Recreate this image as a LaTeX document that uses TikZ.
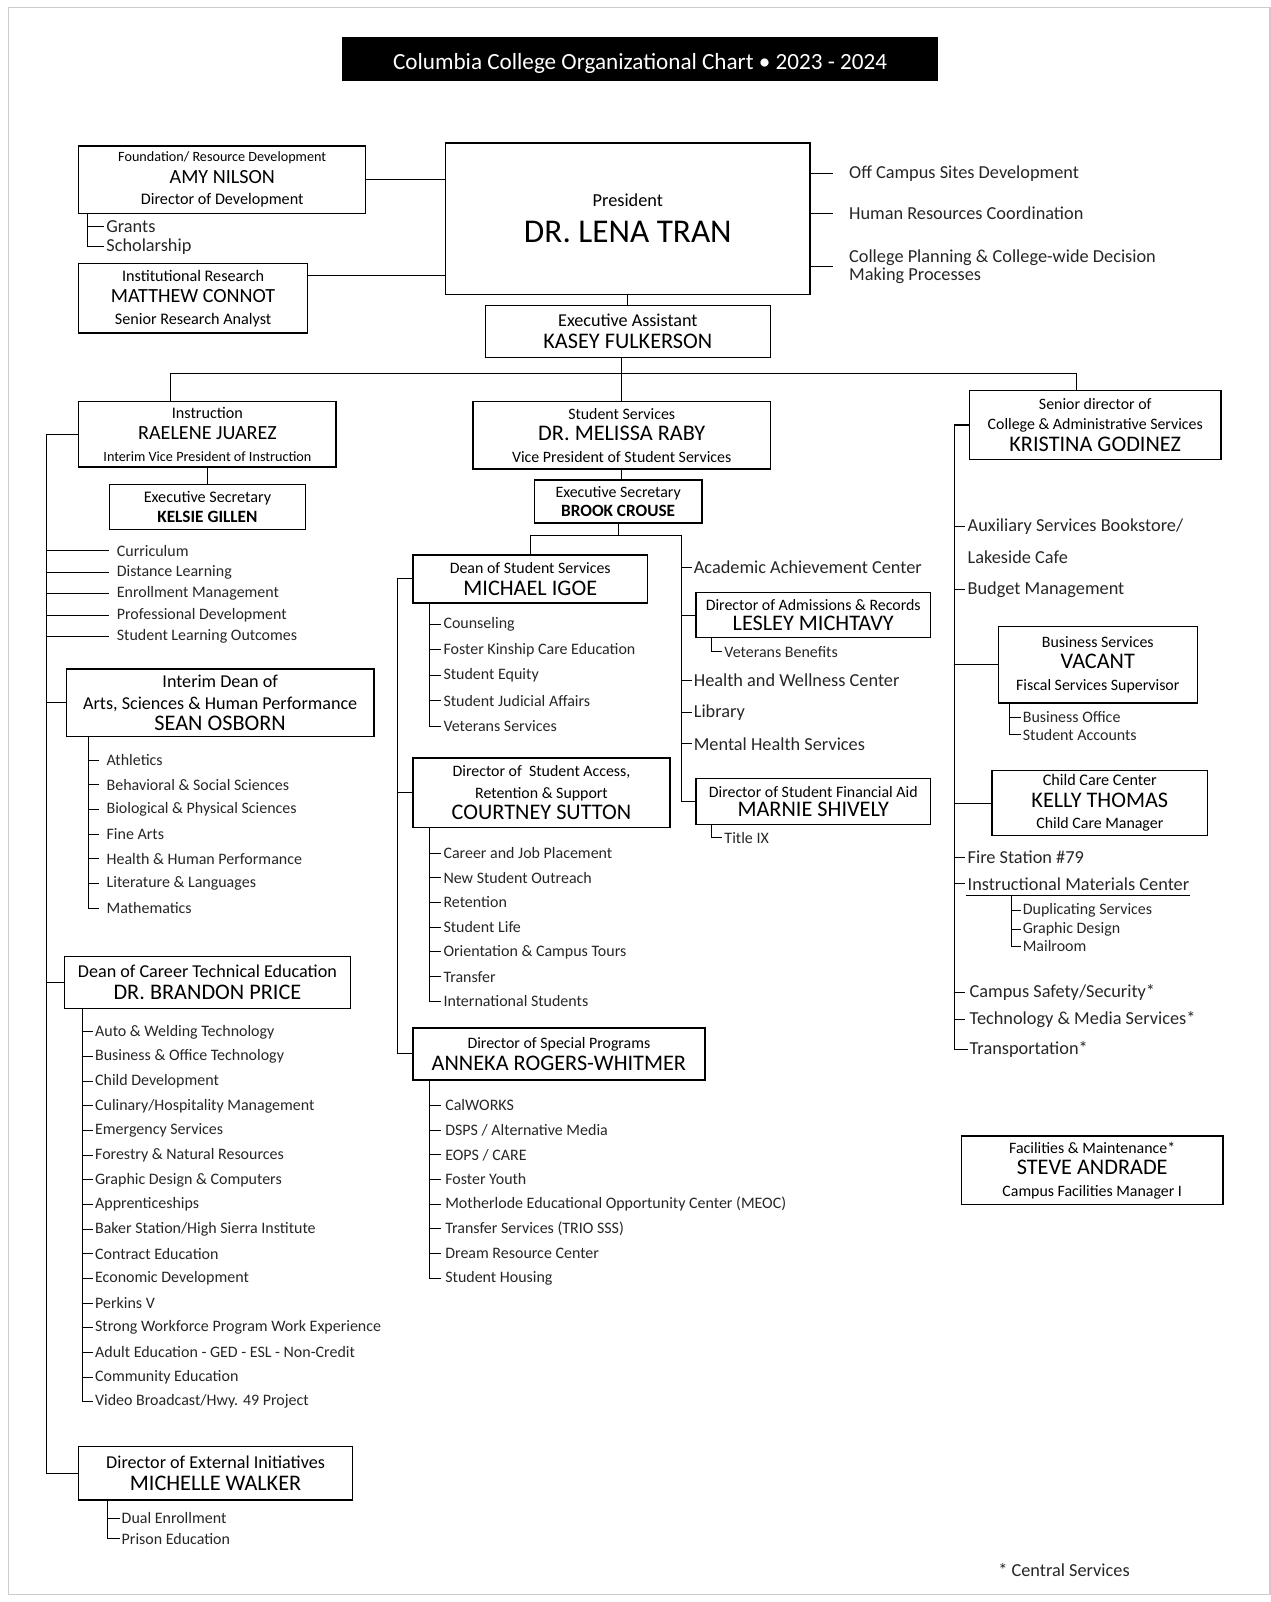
\documentclass[tikz,border=0pt]{standalone}
\usepackage{fontspec}
\setmainfont{Carlito}
\newcommand\fsT{\fontsize{12.9}{15}\selectfont}
\newcommand\fsP{\fontsize{18.5}{20}\selectfont}
\newcommand\fsN{\fontsize{12.4}{13.2}\selectfont}
\newcommand\fsL{\fontsize{11.2}{12.4}\selectfont}
\newcommand\fsE{\fontsize{10.1}{11.2}\selectfont}
\newcommand\fsM{\fontsize{9}{10.4}\selectfont}
\newcommand\fsS{\fontsize{8.85}{10}\selectfont}
\newcommand\fsA{\fontsize{7.9}{9.2}\selectfont}
\newcommand\fsB{\fontsize{9.6}{10.6}\selectfont\bfseries}
\newcommand\fsR{\fontsize{10.2}{12.4}\selectfont}
\newcommand\fsI{\fontsize{8.9}{10.4}\selectfont}
\begin{document}
\begin{tikzpicture}[x=0.02cm,y=-0.02cm,
  box/.style={draw,line width=0.8pt,align=center,inner sep=1pt},
  item/.style={anchor=west,inner xsep=1pt,inner ysep=0pt,text=black!85},
  gapitem/.style={item,inner xsep=4pt},
  lnk/.style={line width=0.6pt}]
\useasboundingbox (0,0) rectangle (1244,1568);
\draw[black!20,line width=0.6pt] (8,7) rectangle (1243,1561);
\node[fill=black,text=white,minimum width=11.66cm,minimum height=0.86cm,text height=11.5pt,text depth=0pt,font=\fsT] (ttl) at (626.5,57.5) {Columbia College Organizational Chart • 2023 - 2024};

% president and staff
\node[box,minimum width=7.14cm,minimum height=2.96cm] (pres) at (614.5,214) {\fsR President\\[8pt] \fsP DR. LENA TRAN};
\node[box,minimum width=5.62cm,minimum height=1.32cm] (amy) at (217.5,176) {\fsA Foundation/ Resource Development\\ \fsL AMY NILSON\\ \fsM Director of Development};
\node[box,minimum width=4.48cm,minimum height=1.36cm] (conn) at (189,292) {\fsM Institutional Research\\ \fsL MATTHEW CONNOT\\ \fsM Senior Research Analyst};
\node[box,minimum width=5.58cm,minimum height=1.02cm] (ea) at (614.5,324.5) {\fsE Executive Assistant\\ \fsN KASEY FULKERSON};
\draw[lnk] (amy.east) -- (amy.east -| pres.west);
\draw[lnk] ([yshift=0.44cm]conn.east) -- ([yshift=0.44cm]conn.east -| pres.west);
\draw[lnk] (pres.south) -- (ea.north);
\node[item,font=\fsR] (gr) at (102,222) {Grants};
\node[item,font=\fsR] (sch) at (102,241) {Scholarship};
\coordinate (av) at ([xshift=0.18cm]amy.south west);
\draw[lnk] (av) |- (sch.west);
\draw[lnk] (av |- gr.west) -- (gr.west);
\node[item,font=\fsR] (ocs) at (829,170) {Off Campus Sites Development};
\node[item,font=\fsR] (hrc) at (829,209) {Human Resources Coordination};
\node[item,font=\fsR,align=left] (cpl) at (829,261) {College Planning \& College-wide Decision\\[-2pt]Making Processes};
\foreach \n in {ocs,hrc,cpl} \draw[lnk] (pres.east |- \n.west) -- ++(22,0);

% vice presidents
\node[box,minimum width=5.04cm,minimum height=1.28cm] (instr) at (203,425) {\fsM Instruction\\ \fsL RAELENE JUAREZ\\ \fsA Interim Vice President of Instruction};
\node[box,minimum width=5.82cm,minimum height=1.32cm] (rab) at (608.5,426) {\fsS Student Services\\ \fsN DR. MELISSA RABY\\ \fsS Vice President of Student Services};
\node[box,minimum width=4.92cm,minimum height=1.36cm] (kris) at (1072,416) {\fsS Senior director of\\[-1pt] \fsS College \& Administrative Services\\ \fsN KRISTINA GODINEZ};
\coordinate (bus) at (608,366);
\draw[lnk] ([xshift=-0.72cm]instr.north) |- (bus) -| ([xshift=-0.36cm]kris.north);
\draw[lnk] (ea.south -| rab.north) -- (rab.north);

% instruction
\node[box,minimum width=3.84cm,minimum height=0.88cm] (kel) at (203,496) {\fsM Executive Secretary\\[-1pt] \fsB KELSIE GILLEN};
\draw[lnk] (instr.south) -- (kel.north);
\node[box,minimum width=6.02cm,minimum height=1.32cm] (sean) at (215.5,688) {\fsE Interim Dean of\\ \fsE Arts, Sciences \& Human Performance\\ \fsN SEAN OSBORN};
\node[box,minimum width=5.6cm,minimum height=1.02cm] (price) at (203,961.5) {\fsE Dean of Career Technical Education\\ \fsN DR. BRANDON PRICE};
\node[box,minimum width=5.36cm,minimum height=1.04cm] (walk) at (211,1442) {\fsE Director of External Initiatives\\ \fsN MICHELLE WALKER};
\draw[lnk] (instr.west) -- ++(-31,0) coordinate (sp1) |- (walk.west);
\draw[lnk] (sp1 |- sean.west) -- (sean.west);
\draw[lnk] (sp1 |- price.west) -- (price.west);
\foreach \t [count=\i] in {Curriculum,Distance Learning,Enrollment Management,Professional Development,Student Learning Outcomes}
  \node[gapitem,font=\fsI] (ins\i) at (107,{539+21*(\i-1)}) {\t};
\foreach \i in {1,...,5} \draw[lnk] (sp1 |- ins\i.west) -- (ins\i.west);

\foreach \t [count=\i] in {Athletics,Behavioral \& Social Sciences,Biological \& Physical Sciences,Fine Arts,Health \& Human Performance,Literature \& Languages,Mathematics}
  \node[gapitem,font=\fsI] (sa\i) at (97,{744+24.17*(\i-1)}) {\t};
\coordinate (sv) at ([xshift=0.44cm]sean.south west);
\draw[lnk] (sv) |- (sa7.west);
\foreach \i in {1,...,6} \draw[lnk] (sv |- sa\i.west) -- (sa\i.west);

\foreach \t [count=\i] in {Auto \& Welding Technology,Business \& Office Technology,Child Development,Culinary/Hospitality Management,Emergency Services,Forestry \& Natural Resources,Graphic Design \& Computers,Apprenticeships,Baker Station/High Sierra Institute,Contract Education,Economic Development,Perkins V,Strong Workforce Program Work Experience,Adult Education - GED - ESL - Non-Credit,Community Education,Video Broadcast/Hwy. 49 Project}
  \node[item,font=\fsI] (ct\i) at (91,{1010+24.13*(\i-1)}) {\t};
\coordinate (pv) at ([xshift=0.36cm]price.south west);
\draw[lnk] (pv) |- (ct16.west);
\foreach \i in {1,...,15} \draw[lnk] (pv |- ct\i.west) -- (ct\i.west);

\node[item,font=\fsI] (de) at (117,1486) {Dual Enrollment};
\node[item,font=\fsI] (pe) at (117,1506) {Prison Education};
\coordinate (wv) at ([xshift=0.58cm]walk.south west);
\draw[lnk] (wv) |- (pe.west);
\draw[lnk] (wv |- de.west) -- (de.west);

% student services
\node[box,minimum width=3.28cm,minimum height=0.84cm] (brook) at (605,491) {\fsS Executive Secretary\\[-1pt] \fsB BROOK CROUSE};
\draw[lnk] (rab.south) -- (rab.south |- brook.north);
\node[box,minimum width=4.6cm,minimum height=0.94cm] (igoe) at (519,566.5) {\fsS Dean of Student Services\\ \fsN MICHAEL IGOE};
\node[box,minimum width=5.04cm,minimum height=1.36cm] (sutton) at (530,776) {\fsS Director of \ Student Access,\\ \fsS Retention \& Support\\ \fsN COURTNEY SUTTON};
\node[box,minimum width=5.72cm,minimum height=1.02cm] (rogers) at (547,1031.5) {\fsS Director of Special Programs\\ \fsN ANNEKA ROGERS-WHITMER};
\node[box,minimum width=4.6cm,minimum height=0.88cm] (lesley) at (796,602) {\fsS Director of Admissions \& Records\\[-1pt] \fsN LESLEY MICHTAVY};
\node[box,minimum width=4.6cm,minimum height=0.9cm] (marnie) at (796,784.5) {\fsS Director of Student Financial Aid\\[-1pt] \fsN MARNIE SHIVELY};
\draw[lnk] (brook.south) -- ++(0,11) coordinate (b2) -- ++(62,0) coordinate (sp3);
\draw[lnk] (b2) -| (igoe.north);
\draw[lnk] (sp3) |- (marnie.west);
\draw[lnk] (sp3 |- lesley.west) -- (lesley.west);
\node[item,font=\fsR] (aac) at (677,555) {Academic Achievement Center};
\node[item,font=\fsR] (hwc) at (677,666) {Health and Wellness Center};
\node[item,font=\fsR] (lib) at (677,697) {Library};
\node[item,font=\fsR] (mhs) at (677,728) {Mental Health Services};
\foreach \n in {aac,hwc,lib,mhs} \draw[lnk] (sp3 |- \n.west) -- (\n.west);
\node[item,font=\fsI] (vb) at (707,638) {Veterans Benefits};
\draw[lnk] ([xshift=0.32cm]lesley.south west) |- (vb.west);
\node[item,font=\fsI] (t9) at (707,820) {Title IX};
\draw[lnk] ([xshift=0.32cm]marnie.south west) |- (t9.west);

\draw[lnk] (igoe.west) -- ++(-14,0) coordinate (sp2) |- (rogers.west);
\draw[lnk] (sp2 |- sutton.west) -- (sutton.west);
\foreach \t [count=\i] in {Counseling,Foster Kinship Care Education,Student Equity,Student Judicial Affairs,Veterans Services}
  \node[item,font=\fsI] (ds\i) at (432,{611+25*(\i-1)}) {\t};
\coordinate (iv) at ([xshift=0.34cm]igoe.south west);
\draw[lnk] (iv) |- (ds5.west);
\foreach \i in {1,...,4} \draw[lnk] (iv |- ds\i.west) -- (ds\i.west);
\foreach \t [count=\i] in {Career and Job Placement,New Student Outreach,Retention,Student Life,Orientation \& Campus Tours,Transfer,International Students}
  \node[item,font=\fsI] (sr\i) at (432,{835+24.17*(\i-1)}) {\t};
\coordinate (sv2) at ([xshift=0.34cm]sutton.south west);
\draw[lnk] (sv2) |- (sr7.west);
\foreach \i in {1,...,6} \draw[lnk] (sv2 |- sr\i.west) -- (sr\i.west);
\foreach \t [count=\i] in {CalWORKS,DSPS / Alternative Media,EOPS / CARE,Foster Youth,Motherlode Educational Opportunity Center (MEOC),Transfer Services (TRIO SSS),Dream Resource Center,Student Housing}
  \node[item,inner xsep=2pt,font=\fsI] (sp\i) at (432,{1082+24.14*(\i-1)}) {\t};
\coordinate (rv) at ([xshift=0.34cm]rogers.south west);
\draw[lnk] (rv) |- (sp8.west);
\foreach \i in {1,...,7} \draw[lnk] (rv |- sp\i.west) -- (sp\i.west);

% college and administrative services
\node[box,minimum width=3.9cm,minimum height=1.5cm] (vac) at (1074.5,650.5) {\fsS Business Services\\ \fsN VACANT\\ \fsS Fiscal Services Supervisor};
\node[box,minimum width=4.22cm,minimum height=1.28cm] (kelly) at (1076.5,786) {\fsM Child Care Center\\ \fsN KELLY THOMAS\\ \fsS Child Care Manager};
\node[item,font=\fsR] (aux) at (945,515) {Auxiliary Services Bookstore/};
\node[item,font=\fsR] (lak) at (945,545) {Lakeside Cafe};
\node[item,font=\fsR] (bud) at (945,577) {Budget Management};
\node[item,font=\fsR] (fire) at (945,839) {Fire Station \#79};
\node[item,font=\fsR] (imc) at (945,865) {Instructional Materials Center};
\node[item,font=\fsR] (saf) at (947,971) {Campus Safety/Security*};
\node[item,font=\fsR] (tech) at (947,998) {Technology \& Media Services*};
\node[item,font=\fsR] (trans) at (947,1027) {Transportation*};
\draw[lnk] (kris.west) -- ++(-14,0) coordinate (sp4) |- (trans.west);
\foreach \n in {aux,bud,fire,imc,saf,tech} \draw[lnk] (sp4 |- \n.west) -- ++(10,0);
\draw[lnk] (sp4 |- vac.west) -- (vac.west);
\draw[lnk] (sp4 |- kelly.west) -- (kelly.west);
\node[item,font=\fsI] (bo) at (999,702) {Business Office};
\node[item,font=\fsI] (sac) at (999,719) {Student Accounts};
\coordinate (vv) at ([xshift=0.24cm]vac.south west);
\draw[lnk] (vv) |- (sac.west);
\draw[lnk] (vv |- bo.west) -- (bo.west);
\draw[lnk] ([yshift=-0.1cm]imc.south west) -- ++(220,0);
\node[item,font=\fsI] (dup) at (999,891) {Duplicating Services};
\node[item,font=\fsI] (gd) at (999,910) {Graphic Design};
\node[item,font=\fsI] (mail) at (999,926) {Mailroom};
\coordinate (mv) at ([xshift=0.9cm,yshift=-0.1cm]imc.south west);
\draw[lnk] (mv) |- (mail.west);
\foreach \n in {dup,gd} \draw[lnk] (mv |- \n.west) -- (\n.west);

\node[box,minimum width=5.12cm,minimum height=1.34cm] (steve) at (1069,1145.5) {\fsS Facilities \& Maintenance*\\ \fsN STEVE ANDRADE\\ \fsS Campus Facilities Manager I};
\node[item,font=\fsR] (note) at (975,1537) {* Central Services};
\end{tikzpicture}
\end{document}
